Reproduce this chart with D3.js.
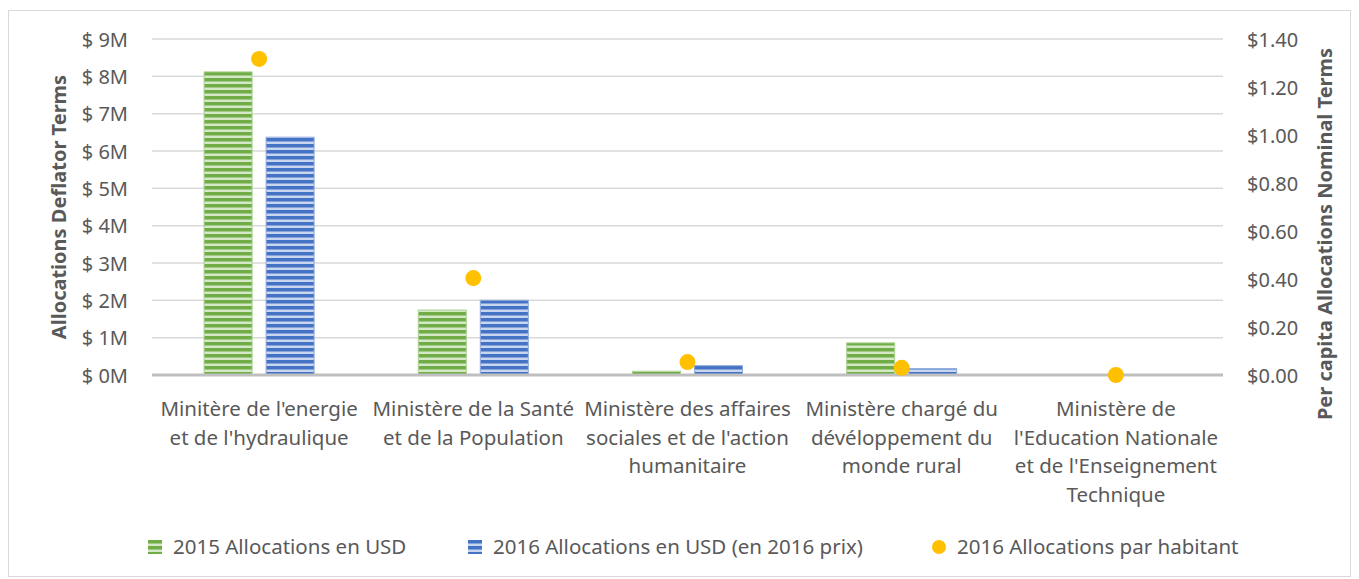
<!DOCTYPE html>
<html>
<head>
<meta charset="utf-8">
<script src="https://cdn.jsdelivr.net/npm/d3@7"></script>
<style>
  body { margin: 0; background: #fff; }
  text { font-family: "Noto Sans", "Liberation Sans", sans-serif; fill: #595959; }
</style>
</head>
<body>
<script>
// chart values
const categories = [
  "Minitère de l'energie|et de l'hydraulique",
  "Ministère de la Santé|et de la Population",
  "Ministère des affaires|sociales et de l'action|humanitaire",
  "Ministère chargé du|dévéloppement du|monde rural",
  "Ministère de|l'Education Nationale|et de l'Enseignement|Technique"
];
const alloc2015 = [8.12, 1.74, 0.10, 0.86, 0.0];
const alloc2016 = [6.37, 2.00, 0.25, 0.17, 0.0];
const perCapita2016 = [1.317, 0.404, 0.054, 0.030, 0.0];
const leftTicks = [0, 1, 2, 3, 4, 5, 6, 7, 8, 9];
const rightTicks = [0, 0.2, 0.4, 0.6, 0.8, 1.0, 1.2, 1.4];
const seriesNames = ["2015 Allocations en USD", "2016 Allocations en USD (en 2016 prix)", "2016 Allocations par habitant"];

const width = 1359, height = 579;
const margin = {left: 152, right: 136, top: 39, bottom: 204};
const plotW = width - margin.left - margin.right;

const svg = d3.select('body').append('svg')
    .attr('width', width).attr('height', height);

// stripe patterns
const defs = svg.append('defs');
function stripes(id, dark, light) {
  const p = defs.append('pattern').attr('id', id)
      .attr('patternUnits', 'userSpaceOnUse').attr('width', 8).attr('height', 6);
  p.append('rect').attr('width', 8).attr('height', 6).attr('fill', light);
  p.append('rect').attr('y', 0).attr('width', 8).attr('height', 3.5).attr('fill', dark);
}
stripes('g', '#70ad47', '#d5e8c8');
stripes('b', '#4472c4', '#c9d6f0');

// outer frame
svg.append('rect').attr('x', 8.5).attr('y', 10.5).attr('width', 1342).attr('height', 566)
    .attr('fill', 'none').attr('stroke', '#d9d9d9');

const x = d3.scaleBand().domain(d3.range(categories.length))
    .range([margin.left, margin.left + plotW]);
const yL = d3.scaleLinear().domain([0, 9]).range([375, 39]);
const yR = d3.scaleLinear().domain([0, 1.4]).range([375, 39]);

// gridlines
svg.append('g').selectAll('line').data(leftTicks.slice(1)).join('line')
    .attr('x1', margin.left).attr('x2', margin.left + plotW)
    .attr('y1', d => yL(d)).attr('y2', d => yL(d))
    .attr('stroke', '#d9d9d9').attr('stroke-width', 1.5);

// left axis
const axL = svg.append('g').attr('transform', `translate(${margin.left},0)`)
    .call(d3.axisLeft(yL).tickValues(leftTicks).tickFormat(d => `$ ${d}M`).tickSize(0).tickPadding(24));
axL.select('.domain').remove();
axL.selectAll('text').style('font-size', '20px').attr('fill', '#595959').attr('dy', '0.35em');

// right axis
const axR = svg.append('g').attr('transform', `translate(${margin.left + plotW},0)`)
    .call(d3.axisRight(yR).tickValues(rightTicks).tickFormat(d3.format('$.2f')).tickSize(0).tickPadding(24));
axR.select('.domain').remove();
axR.selectAll('text').style('font-size', '20px').attr('fill', '#595959').attr('dy', '0.35em');

// bars
const bw = 48, gap = 14;
const bars = svg.append('g');
bars.selectAll('.b15').data(alloc2015).join('rect')
    .attr('x', (d, i) => x(i) + x.bandwidth() / 2 - gap / 2 - bw)
    .attr('y', d => yL(d)).attr('width', bw).attr('height', d => yL(0) - yL(d))
    .attr('fill', 'url(#g)').attr('stroke', '#a9d18e').attr('stroke-width', 1);
bars.selectAll('.b16').data(alloc2016).join('rect')
    .attr('x', (d, i) => x(i) + x.bandwidth() / 2 + gap / 2)
    .attr('y', d => yL(d)).attr('width', bw).attr('height', d => yL(0) - yL(d))
    .attr('fill', 'url(#b)').attr('stroke', '#8faadc').attr('stroke-width', 1);

// baseline
svg.append('line').attr('x1', margin.left).attr('x2', margin.left + plotW)
    .attr('y1', yL(0)).attr('y2', yL(0)).attr('stroke', '#bfbfbf').attr('stroke-width', 3);

// dots
svg.append('g').selectAll('circle').data(perCapita2016).join('circle')
    .attr('cx', (d, i) => x(i) + x.bandwidth() / 2)
    .attr('cy', d => yR(d)).attr('r', 8).attr('fill', '#ffc000');

// category labels
svg.append('g').selectAll('text').data(categories).join('text')
    .attr('text-anchor', 'middle')
    .attr('transform', (d, i) => `translate(${x(i) + x.bandwidth() / 2},416)`)
    .style('font-size', '20.5px')
    .each(function(d) {
      d3.select(this).selectAll('tspan').data(d.split('|')).join('tspan')
        .attr('x', 0).attr('dy', (t, j) => j ? 28.5 : 0).text(t => t);
    });

// axis titles
svg.append('text').attr('transform', 'translate(66,207) rotate(-90)')
    .attr('text-anchor', 'middle').style('font-size', '20px').style('font-weight', 'bold')
    .text('Allocations Deflator Terms');
svg.append('text').attr('transform', 'translate(1332,234) rotate(-90)')
    .attr('text-anchor', 'middle').style('font-size', '20px').style('font-weight', 'bold')
    .text('Per capita Allocations Nominal Terms');

// legend
const legX = [148, 468, 932];
const leg = svg.append('g');
leg.append('rect').attr('x', legX[0]).attr('y', 540).attr('width', 14).attr('height', 14).attr('fill', 'url(#g)');
leg.append('rect').attr('x', legX[1]).attr('y', 540).attr('width', 14).attr('height', 14).attr('fill', 'url(#b)');
leg.append('circle').attr('cx', legX[2] + 7).attr('cy', 547).attr('r', 7).attr('fill', '#ffc000');
leg.selectAll('text').data(seriesNames).join('text')
    .attr('x', (d, i) => legX[i] + 25).attr('y', 547).attr('dy', '0.35em')
    .style('font-size', '20.5px').text(d => d);
</script>
</body>
</html>
